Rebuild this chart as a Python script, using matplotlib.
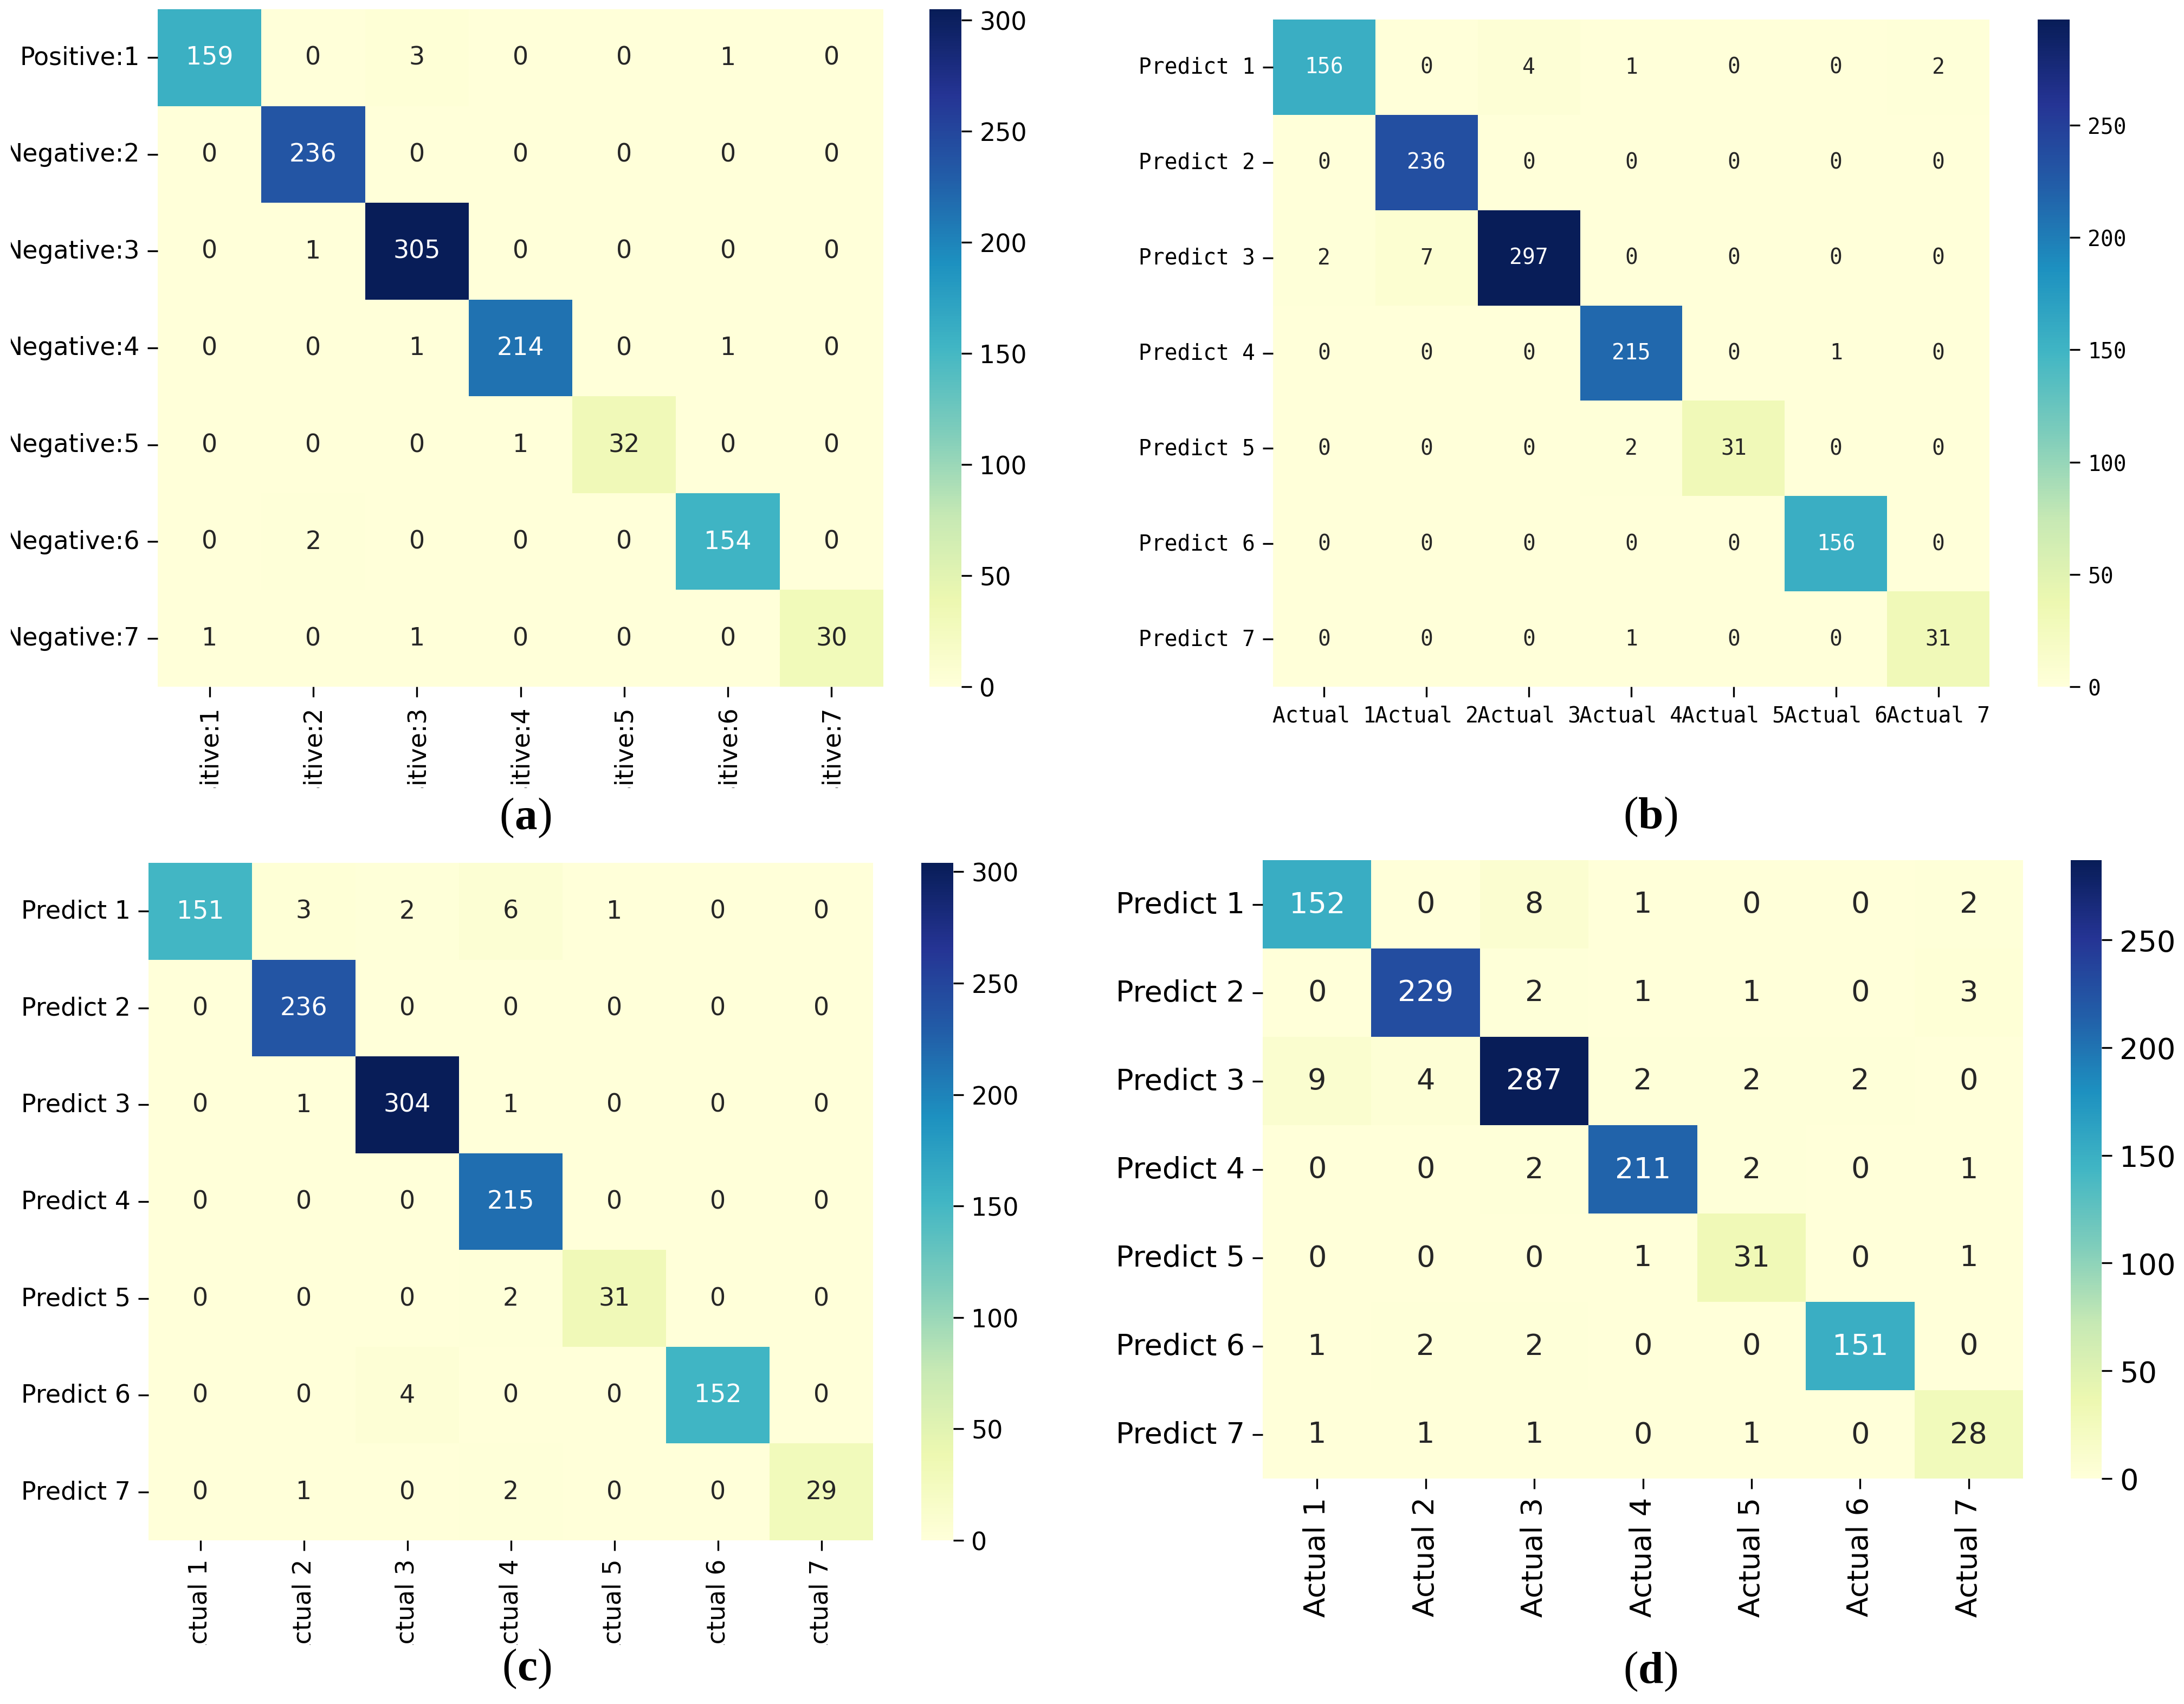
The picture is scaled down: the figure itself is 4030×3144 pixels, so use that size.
import numpy as np
import matplotlib
matplotlib.use("Agg")
import matplotlib.pyplot as plt
import seaborn as sns
from matplotlib.patches import Rectangle
from matplotlib.offsetbox import TextArea, HPacker, AnnotationBbox

# ---------------- data ----------------
cm_a = [[159, 0, 3, 0, 0, 1, 0],
        [0, 236, 0, 0, 0, 0, 0],
        [0, 1, 305, 0, 0, 0, 0],
        [0, 0, 1, 214, 0, 1, 0],
        [0, 0, 0, 1, 32, 0, 0],
        [0, 2, 0, 0, 0, 154, 0],
        [1, 0, 1, 0, 0, 0, 30]]
cm_b = [[156, 0, 4, 1, 0, 0, 2],
        [0, 236, 0, 0, 0, 0, 0],
        [2, 7, 297, 0, 0, 0, 0],
        [0, 0, 0, 215, 0, 1, 0],
        [0, 0, 0, 2, 31, 0, 0],
        [0, 0, 0, 0, 0, 156, 0],
        [0, 0, 0, 1, 0, 0, 31]]
cm_c = [[151, 3, 2, 6, 1, 0, 0],
        [0, 236, 0, 0, 0, 0, 0],
        [0, 1, 304, 1, 0, 0, 0],
        [0, 0, 0, 215, 0, 0, 0],
        [0, 0, 0, 2, 31, 0, 0],
        [0, 0, 4, 0, 0, 152, 0],
        [0, 1, 0, 2, 0, 0, 29]]
cm_d = [[152, 0, 8, 1, 0, 0, 2],
        [0, 229, 2, 1, 1, 0, 3],
        [9, 4, 287, 2, 2, 2, 0],
        [0, 0, 2, 211, 2, 0, 1],
        [0, 0, 0, 1, 31, 0, 1],
        [1, 2, 2, 0, 0, 151, 0],
        [1, 1, 1, 0, 1, 0, 28]]

ylabels_a = ["Positive:1", "Negative:2", "Negative:3", "Negative:4",
             "Negative:5", "Negative:6", "Negative:7"]
xlabels_a = ["Positive:1", "Positive:2", "Positive:3", "Positive:4",
             "Positive:5", "Positive:6", "Positive:7"]
pred_labels = ["Predict 1", "Predict 2", "Predict 3", "Predict 4",
               "Predict 5", "Predict 6", "Predict 7"]
act_labels = ["Actual 1", "Actual 2", "Actual 3", "Actual 4",
              "Actual 5", "Actual 6", "Actual 7"]
captions = ["a", "b", "c", "d"]

W, H = 4030, 3145
fig = plt.figure(figsize=(W / 300, H / 300), dpi=300)


def frac_box(x0, y0, x1, y1):
    return [x0 / W, 1 - y1 / H, (x1 - x0) / W, (y1 - y0) / H]


def panel(data, ylabels, xlabels, hbox, cbox, family, fsize, xrot):
    ax = fig.add_axes(frac_box(*hbox))
    cax = fig.add_axes(frac_box(*cbox))
    sns.heatmap(np.array(data), ax=ax, cbar_ax=cax, cmap="YlGnBu",
                annot=True, fmt="d",
                annot_kws={"fontsize": fsize, "family": family},
                xticklabels=xlabels, yticklabels=ylabels)
    ax.tick_params(axis='both', length=4.5, width=0.8, labelsize=fsize)
    for lab in ax.get_xticklabels():
        lab.set_family(family)
        lab.set_rotation(xrot)
        lab.set_fontsize(fsize)
    for lab in ax.get_yticklabels():
        lab.set_family(family)
        lab.set_rotation(0)
        lab.set_fontsize(fsize)
    cax.tick_params(length=4.5, width=0.8, labelsize=fsize)
    for lab in cax.get_yticklabels():
        lab.set_family(family)
    return ax, cax


panel(cm_a, ylabels_a, xlabels_a, (291, 18, 1630, 1268), (1715, 18, 1774, 1268),
      "DejaVu Sans", 11, 90)
panel(cm_b, pred_labels, act_labels, (2349, 37, 3671, 1268), (3760, 37, 3819, 1268),
      "DejaVu Sans Mono", 9.5, 0)
panel(cm_c, pred_labels, act_labels, (274, 1593, 1611, 2843), (1700, 1593, 1759, 2843),
      "DejaVu Sans", 11, 90)
panel(cm_d, pred_labels, act_labels, (2330, 1588, 3733, 2729), (3821, 1588, 3878, 2729),
      "DejaVu Sans", 13, 90)


# ---------------- cropping masks (the source images were trimmed) ----------------
def mask(x0, y0, x1, y1):
    fig.add_artist(Rectangle((x0 / W, 1 - y1 / H), (x1 - x0) / W, (y1 - y0) / H,
                             transform=fig.transFigure, facecolor='white',
                             edgecolor='none', zorder=5))


mask(0, 0, 20, 1300)          # left trim of panel (a)
mask(200, 1455, 1690, 1575)   # bottom trim of panel (a)
mask(200, 3036, 1690, 3145)   # bottom trim of panel (c)

# ---------------- captions: "(" regular, letter bold, ")" regular ----------------
cap_pos = [(970, 1510), (3046, 1508), (973, 3080), (3046, 3085)]
for c, (cx, cy) in zip(captions, cap_pos):
    reg = dict(family="Liberation Serif", fontsize=20, fontweight="normal")
    bold = dict(family="Liberation Serif", fontsize=20, fontweight="bold")
    box = HPacker(children=[TextArea("(", textprops=reg),
                            TextArea(c, textprops=bold),
                            TextArea(")", textprops=reg)],
                  sep=0, pad=0, align="baseline")
    ab = AnnotationBbox(box, (cx / W, 1 - cy / H), xycoords='figure fraction',
                        frameon=False, box_alignment=(0.5, 0.5), pad=0, zorder=10)
    fig.add_artist(ab)

fig.savefig("out.png", dpi=300)
